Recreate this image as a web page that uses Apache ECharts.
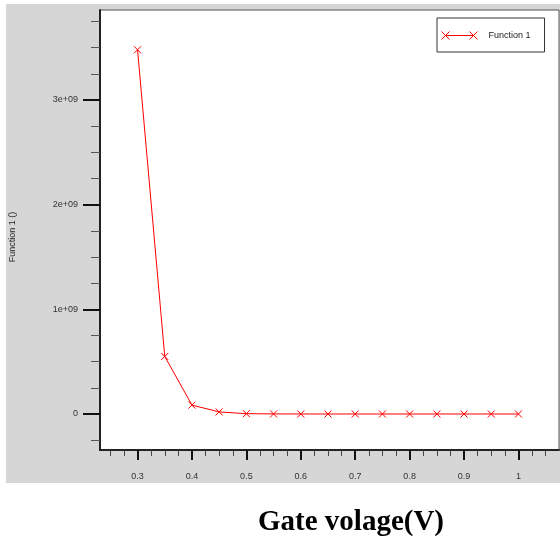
<!DOCTYPE html>
<html>
<head>
<meta charset="utf-8">
<script src="https://cdn.jsdelivr.net/npm/echarts@6/dist/echarts.min.js"></script>
<style>
  html, body { margin: 0; padding: 0; background: #fff; }
  #my_chart { width: 560px; height: 544px; }
</style>
</head>
<body>
<div id="my_chart"></div>
<script>
// data
var gateVoltage = [0.3, 0.35, 0.4, 0.45, 0.5, 0.55, 0.6, 0.65, 0.7, 0.75, 0.8, 0.85, 0.9, 0.95, 1];
var function1 = [3.48e9, 0.55e9, 0.085e9, 0.02e9, 0.003e9, 0.001e9, 0, 0, 0, 0, 0, 0, 0, 0, 0];

// tick values / labels
var xMajorTicks = [0.3, 0.4, 0.5, 0.6, 0.7, 0.8, 0.9, 1];
var xMajorLabels = ["0.3", "0.4", "0.5", "0.6", "0.7", "0.8", "0.9", "1"];
var xMinorTicks = [0.25, 0.275, 0.325, 0.35, 0.375, 0.425, 0.45, 0.475, 0.525, 0.55, 0.575,
  0.625, 0.65, 0.675, 0.725, 0.75, 0.775, 0.825, 0.85, 0.875, 0.925, 0.95, 0.975, 1.025, 1.05];
var yMajorTicks = [0, 1e9, 2e9, 3e9];
var yMajorLabels = ["0", "1e+09", "2e+09", "3e+09"];
var yMinorTicks = [-0.25e9, 0.25e9, 0.5e9, 0.75e9, 1.25e9, 1.5e9, 1.75e9, 2.25e9, 2.5e9, 2.75e9,
  3.25e9, 3.5e9, 3.75e9];

var xMin = 0.231, xMax = 1.0745;
var yMin = -0.344e9, yMax = 3.86e9;

function labelOf(values, labels) {
  return function (v) {
    for (var i = 0; i < values.length; i++) {
      if (Math.abs(values[i] - v) < 1e-6 * (Math.abs(v) + 1)) return labels[i];
    }
    return "";
  };
}

var red = "#ff0000";
var chart = echarts.init(document.getElementById("my_chart"));
var option = {
  animation: false,
  backgroundColor: "#fff",
  textStyle: { fontFamily: "Liberation Sans, Arial, sans-serif" },
  graphic: [
    {
      // gray frame behind the plot
      type: "rect",
      z: -10,
      shape: { x: 6, y: 4, width: 554, height: 479 },
      style: { fill: "#d6d6d6" },
      silent: true,
    },
  ],
  title: {
    text: "Gate volage(V)",
    left: 258,
    top: 508,
    padding: 0,
    textStyle: {
      fontFamily: "Liberation Serif, Times New Roman, serif",
      fontWeight: "bold",
      fontSize: 29,
      color: "#000",
    },
  },
  legend: {
    data: ["Function 1"],
    left: 437,
    top: 18,
    padding: [13, 14, 12, 4],
    backgroundColor: "#fff",
    borderColor: "#333",
    borderWidth: 1,
    borderRadius: 0,
    icon: "path://M0,0L8,8M8,0L0,8M4,4L32,4M28,0L36,8M36,0L28,8",
    itemWidth: 36,
    itemHeight: 8,
    itemStyle: { color: red, borderColor: red, borderWidth: 1 },
    textStyle: { fontSize: 9, color: "#222", padding: [0, 0, 0, 6] },
  },
  grid: {
    left: 98,
    top: 10,
    right: 1,
    bottom: 94,
    show: true,
    backgroundColor: "#fff",
    borderColor: "#555",
    borderWidth: 1,
  },
  xAxis: [
    {
      type: "value",
      position: "bottom",
      min: xMin,
      max: xMax,
      axisLine: { show: true, onZero: false, lineStyle: { color: "#222", width: 2 } },
      axisTick: { show: true, length: 10, customValues: xMajorTicks, lineStyle: { color: "#111", width: 2 } },
      axisLabel: {
        customValues: xMajorTicks,
        formatter: labelOf(xMajorTicks, xMajorLabels),
        margin: 22,
        fontSize: 9,
        color: "#333",
      },
      splitLine: { show: false },
    },
    {
      // minor ticks only
      type: "value",
      position: "bottom",
      min: xMin,
      max: xMax,
      axisLine: { show: false, onZero: false },
      axisTick: { show: true, length: 6, customValues: xMinorTicks, lineStyle: { color: "#444", width: 1 } },
      axisLabel: { show: false },
      splitLine: { show: false },
    },
  ],
  yAxis: [
    {
      type: "value",
      position: "left",
      min: yMin,
      max: yMax,
      name: "Function 1 ()",
      nameLocation: "middle",
      nameGap: 83,
      nameTextStyle: { fontSize: 9, color: "#222", padding: [0, 14, 0, 0] },
      axisLine: { show: true, onZero: false, lineStyle: { color: "#222", width: 2 } },
      axisTick: { show: true, length: 17, customValues: yMajorTicks, lineStyle: { color: "#111", width: 2 } },
      axisLabel: {
        customValues: yMajorTicks,
        formatter: labelOf(yMajorTicks, yMajorLabels),
        margin: 22,
        fontSize: 9,
        color: "#333",
      },
      splitLine: { show: false },
    },
    {
      // minor ticks only
      type: "value",
      position: "left",
      min: yMin,
      max: yMax,
      axisLine: { show: false, onZero: false },
      axisTick: { show: true, length: 9, customValues: yMinorTicks, lineStyle: { color: "#555", width: 1 } },
      axisLabel: { show: false },
      splitLine: { show: false },
    },
  ],
  series: [
    {
      name: "Function 1",
      type: "line",
      xAxisIndex: 0,
      yAxisIndex: 0,
      data: gateVoltage.map(function (x, i) { return [x, function1[i]]; }),
      symbol: "path://M0,0L10,10M10,0L0,10",
      symbolSize: 7,
      lineStyle: { color: red, width: 1 },
      itemStyle: { color: red, borderColor: red, borderWidth: 1 },
    },
  ],
};
chart.setOption(option);
</script>
</body>
</html>
